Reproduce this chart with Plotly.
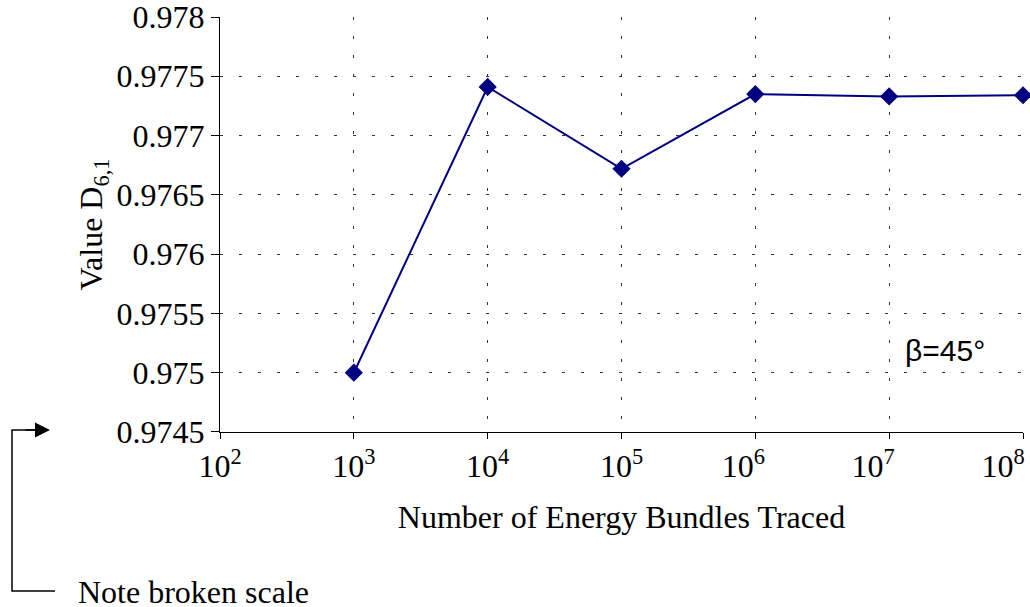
import plotly.graph_objects as go

bundles = [1e3, 1e4, 1e5, 1e6, 1e7, 1e8]
values = [0.97500, 0.97741, 0.97672, 0.97735, 0.97733, 0.97734]
x_tickvals = [1e2, 1e3, 1e4, 1e5, 1e6, 1e7, 1e8]
x_ticktext = ["10<sup>2</sup>", "10<sup>3</sup>", "10<sup>4</sup>", "10<sup>5</sup>",
              "10<sup>6</sup>&nbsp;&nbsp;&nbsp;", "10<sup>7</sup>&nbsp;&nbsp;&nbsp;&nbsp;",
              "10<sup>8</sup>&nbsp;&nbsp;&nbsp;&nbsp;&nbsp;"]
y_tickvals = [0.9745, 0.975, 0.9755, 0.976, 0.9765, 0.977, 0.9775, 0.978]
y_ticktext = ["0.9745", "0.975", "0.9755", "0.976", "0.9765", "0.977", "0.9775", "0.978"]

W, H = 1030, 607
L, R, T, B = 220, 7, 17, 175
serif = "Liberation Serif, Times New Roman, serif"
FS = 32

fig = go.Figure()
fig.add_trace(go.Scatter(
    x=bundles, y=values, mode="lines+markers",
    line=dict(color="#000080", width=2),
    marker=dict(symbol="diamond", size=14, color="#000080"),
    showlegend=False, cliponaxis=False,
))

def px_x(p):
    return (p - L) / (W - L - R)

def px_y(p):
    return (H - B - p) / (H - T - B)

fig.update_layout(
    width=W, height=H,
    margin=dict(l=L, r=R, t=T, b=B),
    paper_bgcolor="white", plot_bgcolor="white",
    font=dict(family=serif, size=FS, color="black"),
    xaxis=dict(
        type="log", range=[1.99999, 8.00001], automargin=False,
        tickvals=x_tickvals, ticktext=x_ticktext, ticklabeloverflow="allow",
        showgrid=True, gridcolor="#333333", gridwidth=1, griddash="3px,16px",
        showline=True, linecolor="black", linewidth=1,
        ticks="outside", ticklen=6, tickcolor="black",
        zeroline=False,
        tickfont=dict(family=serif, size=FS),
        title=dict(text="Number of Energy Bundles Traced", font=dict(family=serif, size=FS), standoff=22),
    ),
    yaxis=dict(
        range=[0.9744999, 0.9780001], automargin=False,
        tickvals=y_tickvals, ticktext=y_ticktext, ticklabeloverflow="allow",
        showgrid=True, gridcolor="#333333", gridwidth=1, griddash="3px,16px",
        showline=True, linecolor="black", linewidth=1,
        ticks="outside", ticklen=8, tickcolor="black",
        zeroline=False,
        tickfont=dict(family=serif, size=FS),
        title=dict(text="Value D<sub>6,1</sub>", font=dict(family=serif, size=FS), standoff=4),
    ),
)

fig.add_annotation(
    x=px_x(945), y=px_y(350), xref="paper", yref="paper",
    text="β=45°", showarrow=False, xanchor="center", yanchor="middle",
    font=dict(family="Liberation Sans, Arial, sans-serif", size=30, color="black"),
)

# bracket with arrow for the "broken scale" note
fig.add_shape(
    type="path", xref="paper", yref="paper",
    path=f"M {px_x(55)} {px_y(591)} L {px_x(12)} {px_y(591)} L {px_x(12)} {px_y(430)} L {px_x(36)} {px_y(430)}",
    line=dict(color="black", width=1.5),
)
fig.add_annotation(
    x=px_x(50), y=px_y(430), ax=-26, ay=0,
    xref="paper", yref="paper", axref="pixel", ayref="pixel",
    text="", showarrow=True, arrowhead=2, arrowsize=2, arrowwidth=1.5, arrowcolor="black",
)
fig.add_annotation(
    x=px_x(76), y=px_y(592), xref="paper", yref="paper",
    text="Note broken scale", showarrow=False, xanchor="left", yanchor="middle",
    font=dict(family=serif, size=FS, color="black"),
)

fig.write_html("out.html")
